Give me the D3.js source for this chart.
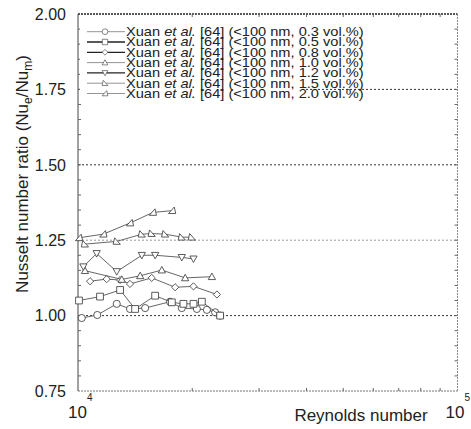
<!DOCTYPE html>
<html>
<head>
<meta charset="utf-8">
<script src="https://cdn.jsdelivr.net/npm/d3@7"></script>
<style>
  body { margin: 0; background: #fff; }
  text { font-family: "Liberation Sans", Arial, sans-serif; fill: #222; }
</style>
</head>
<body>
<div id="viz"></div>
<script>
// data: [Reynolds number, Nu ratio]
const s03 = [[1.023e4, 0.992], [1.124e4, 1.002], [1.265e4, 1.039], [1.371e4, 1.022], [1.503e4, 1.025],
             [1.748e4, 1.046], [1.877e4, 1.025], [2.057e4, 1.022], [2.186e4, 1.019], [2.298e4, 1.011], [2.369e4, 1.0]]
const s05 = [[1.006e4, 1.05], [1.143e4, 1.063], [1.291e4, 1.085], [1.414e4, 1.022], [1.597e4, 1.066],
             [1.767e4, 1.044], [1.896e4, 1.039], [2.015e4, 1.039], [2.12e4, 1.046], [2.369e4, 1.0]]
const s08 = [[1.076e4, 1.114], [1.19e4, 1.121], [1.291e4, 1.118], [1.371e4, 1.105], [1.564e4, 1.125],
             [1.803e4, 1.094], [2.015e4, 1.097], [2.323e4, 1.07]]
const s10 = [[1.043e4, 1.149], [1.304e4, 1.12], [1.458e4, 1.132], [1.663e4, 1.151], [1.916e4, 1.125], [2.253e4, 1.129]]
const s12 = [[1.033e4, 1.162], [1.12e4, 1.206], [1.265e4, 1.146], [1.473e4, 1.2], [1.597e4, 1.2],
             [1.877e4, 1.193], [2.015e4, 1.188]]
const s15 = [[1.043e4, 1.237], [1.265e4, 1.246], [1.473e4, 1.27], [1.564e4, 1.272], [1.697e4, 1.27],
             [1.877e4, 1.26], [1.995e4, 1.26]]
const s20 = [[1.006e4, 1.258], [1.166e4, 1.27], [1.371e4, 1.307], [1.575e4, 1.342], [1.77e4, 1.348]]

const concentrations = ['0.3', '0.5', '0.8', '1.0', '1.2', '1.5', '2.0']
const markers = ['circle', 'square', 'diamond', 'up', 'down', 'right', 'left']
const allSeries = [s03, s05, s08, s10, s12, s15, s20]

const yTicks = [0.75, 1.00, 1.25, 1.50, 1.75, 2.00]
const gridValues = [1.00, 1.25, 1.50, 1.75]

let width = 471,
    height = 429

let x = d3.scaleLog().domain([1e4, 1e5]).range([78, 457.5])
let y = d3.scaleLinear().domain([0.75, 2.0]).range([391, 14])

let svg = d3.select('#viz')
            .append('svg')
            .attr('width', width)
            .attr('height', height)

// markers
function markerPath(kind) {
  let s = 3.6
  if (kind === 'circle') return d3.symbol(d3.symbolCircle, 40)()
  if (kind === 'square') return d3.symbol(d3.symbolSquare, 46)()
  if (kind === 'diamond') return `M0,${-s}L${s},0L0,${s}L${-s},0Z`
  if (kind === 'up') return `M0,${-s}L${s},${s * 0.8}L${-s},${s * 0.8}Z`
  if (kind === 'down') return `M0,${s}L${s},${-s * 0.8}L${-s},${-s * 0.8}Z`
  if (kind === 'right') return `M${-s},${s * 0.8}L${s},${s * 0.8}L${-s * 0.6},${-s}Z`
  return `M${s},${s * 0.8}L${-s},${s * 0.8}L${s * 0.6},${-s}Z`
}

// grid lines
svg.selectAll('.grid')
   .data(gridValues)
   .enter()
   .append('line')
     .attr('x1', x(1e4))
     .attr('x2', x(1e5))
     .attr('y1', d => y(d))
     .attr('y2', d => y(d))
     .style('stroke', d => d === 1.25 ? '#999' : '#333')
     .style('stroke-width', 1)
     .style('stroke-dasharray', '2,2')

// frame
svg.append('line').attr('x1', x(1e4)).attr('x2', x(1e5)).attr('y1', y(2)).attr('y2', y(2))
   .style('stroke', '#222').style('stroke-width', 1.5).style('stroke-dasharray', '2,1')
svg.append('line').attr('x1', x(1e4)).attr('x2', x(1e5)).attr('y1', y(0.75)).attr('y2', y(0.75))
   .style('stroke', '#777').style('stroke-dasharray', '2,1')
svg.append('line').attr('x1', x(1e5)).attr('x2', x(1e5)).attr('y1', y(2)).attr('y2', y(0.75))
   .style('stroke', '#888').style('stroke-dasharray', '2,1')
svg.append('line').attr('x1', x(1e4)).attr('x2', x(1e4)).attr('y1', y(2)).attr('y2', y(0.75))
   .style('stroke', '#444')

// minor ticks on y (inward)
let yMinor = d3.range(0.8, 2.0, 0.05)
svg.selectAll('.ytl')
   .data(yMinor)
   .enter()
   .append('line')
     .attr('x1', x(1e4)).attr('x2', x(1e4) + 3)
     .attr('y1', d => y(d)).attr('y2', d => y(d))
     .style('stroke', '#666')
svg.selectAll('.ytr')
   .data(yMinor)
   .enter()
   .append('line')
     .attr('x1', x(1e5)).attr('x2', x(1e5) - 3)
     .attr('y1', d => y(d)).attr('y2', d => y(d))
     .style('stroke', '#666')

// minor ticks on x
let xMinor = d3.range(2, 10).map(d => d * 1e4)
svg.selectAll('.xtb')
   .data(xMinor)
   .enter()
   .append('line')
     .attr('x1', d => x(d)).attr('x2', d => x(d))
     .attr('y1', y(0.75)).attr('y2', y(0.75) - 3)
     .style('stroke', '#666')
svg.selectAll('.xtt')
   .data(xMinor)
   .enter()
   .append('line')
     .attr('x1', d => x(d)).attr('x2', d => x(d))
     .attr('y1', y(2)).attr('y2', y(2) + 3)
     .style('stroke', '#666')

// y tick labels
svg.selectAll('.ylab')
   .data(yTicks)
   .enter()
   .append('text')
     .attr('x', 66)
     .attr('y', d => y(d))
     .attr('dy', '0.36em')
     .attr('text-anchor', 'end')
     .style('font-size', '16px')
     .text(d => d3.format('.2f')(d))

// x tick labels 10^4, 10^5
let xt = svg.selectAll('.xlab')
            .data([4, 5])
            .enter()
            .append('text')
              .attr('x', d => x(Math.pow(10, d)) - (d === 5 ? 12 : 10))
              .attr('y', 418)
              .style('font-size', '17px')
xt.append('tspan').text('10')
xt.append('tspan').attr('dy', -17).style('font-size', '10px').text(d => d)

// axis titles
svg.append('text')
   .attr('x', 361)
   .attr('y', 421)
   .attr('text-anchor', 'middle')
   .style('font-size', '17px')
   .text('Reynolds number')

let yt = svg.append('text')
            .attr('transform', 'translate(28,174) rotate(-90)')
            .attr('text-anchor', 'middle')
            .style('font-size', '17px')
yt.append('tspan').text('Nusselt number ratio (Nu')
yt.append('tspan').attr('dy', 4).style('font-size', '12px').text('e')
yt.append('tspan').attr('dy', -4).text('/Nu')
yt.append('tspan').attr('dy', 4).style('font-size', '12px').text('m')
yt.append('tspan').attr('dy', -4).text(')')

// legend background hides the grid behind it
svg.append('rect')
   .attr('x', 80).attr('y', 22).attr('width', 220).attr('height', 78)
   .style('fill', '#fff')

// series
let line = d3.line().x(d => x(d[0])).y(d => y(d[1]))

allSeries.forEach((data, i) => {
  svg.append('path')
     .datum(data)
     .attr('d', line)
     .style('fill', 'none')
     .style('stroke', '#555')
     .style('stroke-width', 0.9)

  svg.selectAll('.m' + i)
     .data(data)
     .enter()
     .append('path')
       .attr('transform', d => `translate(${x(d[0])},${y(d[1])})`)
       .attr('d', markerPath(markers[i]))
       .style('fill', '#fff')
       .style('stroke', '#333')
       .style('stroke-width', 0.8)
})

// legend
let legend = svg.selectAll('.leg')
                .data(concentrations)
                .enter()
                .append('g')
                  .attr('transform', (d, i) => `translate(0,${31.7 + i * 10.3})`)

legend.append('line')
      .attr('x1', 87).attr('x2', 125)
      .style('stroke', (d, i) => (i === 1 || i === 2 || i === 4) ? '#222' : '#888')
      .style('stroke-width', (d, i) => (i === 1 || i === 2 || i === 4) ? 1.3 : 0.9)
legend.append('path')
      .attr('transform', 'translate(105,0) scale(0.8)')
      .attr('d', (d, i) => markerPath(markers[i]))
      .style('fill', '#fff')
      .style('stroke', '#444')
      .style('stroke-width', 0.8)

let lt = legend.append('text')
               .attr('transform', 'translate(126,4.3) scale(1.17,1)')
               .style('font-size', '12.5px')
lt.append('tspan').text('Xuan ')
lt.append('tspan').style('font-style', 'italic').text('et al.')
lt.append('tspan').text(d => ` [64] (<100 nm, ${d} vol.%)`)
</script>
</body>
</html>
